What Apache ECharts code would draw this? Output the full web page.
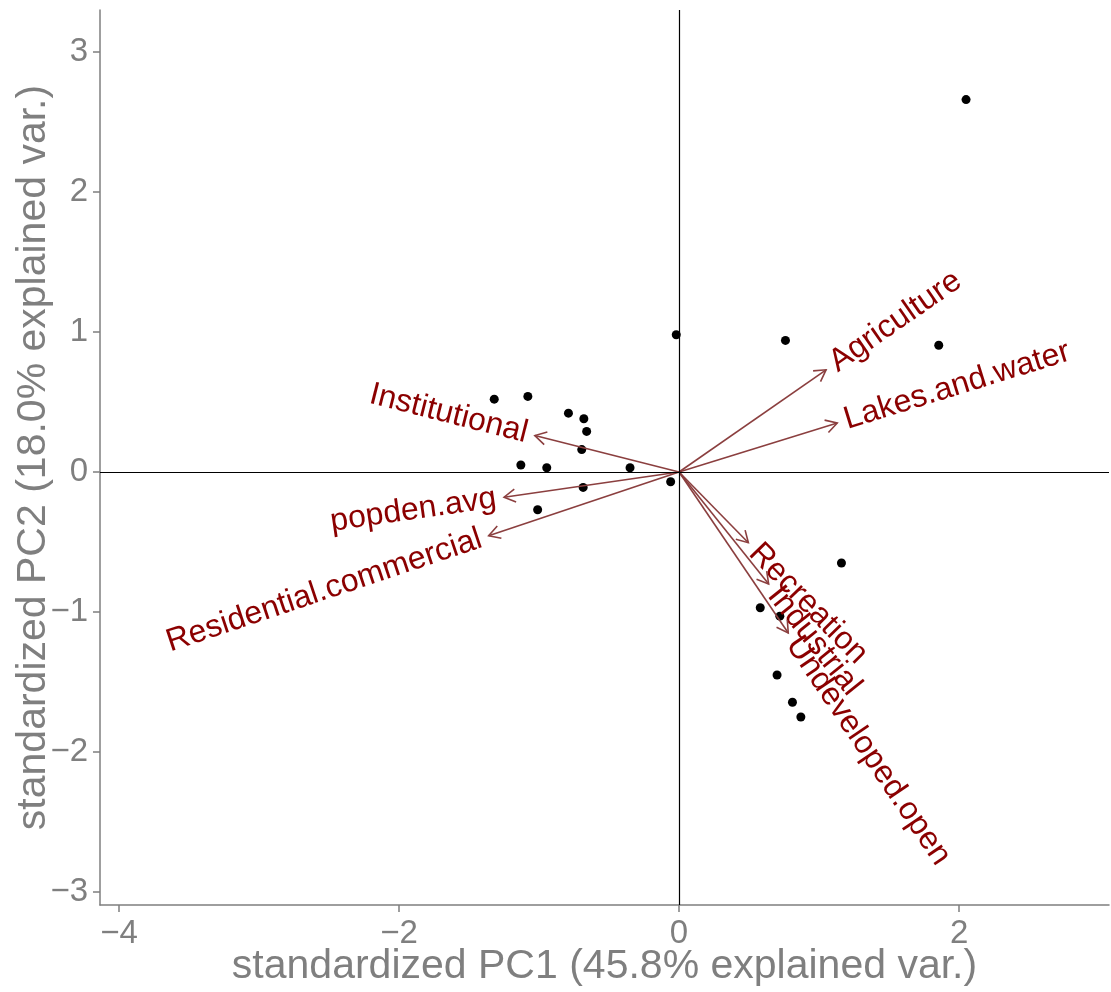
<!DOCTYPE html>
<html>
<head>
<meta charset="utf-8">
<title>PCA biplot</title>
<script src="https://cdn.jsdelivr.net/npm/echarts@6/dist/echarts.min.js"></script>
<style>
  html, body { margin: 0; padding: 0; background: #fff; }
  #chart { width: 1111px; height: 992px; }
</style>
</head>
<body>
<div id="chart"></div>
<script>
// observation scores (PC1, PC2)
const scoresX = [2.05, -0.02, 0.76, 1.855, -1.32, -1.08, -0.79, -0.68, -0.66, -0.695, -1.13,
  -0.945, -0.35, -0.06, -0.685, -1.01, 1.16, 0.58, 0.72, 0.70, 0.81, 0.87];
const scoresY = [2.66, 0.98, 0.94, 0.905, 0.52, 0.54, 0.42, 0.38, 0.29, 0.16, 0.05,
  0.03, 0.03, -0.07, -0.11, -0.27, -0.65, -0.97, -1.03, -1.45, -1.645, -1.75];

// variable loadings (arrow tips)
const varNames = ["popden.avg", "Residential.commercial", "Institutional", "Agriculture",
  "Lakes.and.water", "Recreation", "Industrial", "Undeveloped.open"];
const varX = [-1.25, -1.36, -1.03, 1.05, 1.13, 0.495, 0.64, 0.78];
const varY = [-0.18, -0.455, 0.26, 0.73, 0.35, -0.505, -0.80, -1.15];

const xTicks = [-4, -2, 0, 2];
const yTicks = [-3, -2, -1, 0, 1, 2, 3];

const FONT = "'Liberation Sans', Arial, sans-serif";
const GREY = "#7f7f7f";
const ARROW = "#8b3f3f";
const LABEL = "#8b0000";

const chart = echarts.init(document.getElementById("chart"));

const fmt = v => String(v).replace("-", "\u2212");

function axisCommon(ticks) {
  return {
    type: "value",
    splitLine: { show: false },
    axisLine: { show: true, onZero: false, lineStyle: { color: GREY, width: 1.5 } },
    axisTick: { show: true, length: 7, customValues: ticks, lineStyle: { color: GREY, width: 1.5 } },
    axisLabel: { customValues: ticks, formatter: fmt, color: GREY, fontSize: 33, fontFamily: FONT, margin: 12 },
    nameLocation: "middle",
    nameMoveOverlap: false,
    nameTextStyle: { color: GREY, fontSize: 41, fontFamily: FONT }
  };
}

// arrow + label for each variable
function renderArrow(params, api) {
  const tx = api.value(0), ty = api.value(1);
  const o = api.coord([0, 0]);
  const p = api.coord([tx, ty]);
  const dx = p[0] - o[0], dy = p[1] - o[1];
  const len = Math.sqrt(dx * dx + dy * dy);
  const ux = dx / len, uy = dy / len;
  const head = 13, spread = Math.PI / 6;
  const back = Math.atan2(-uy, -ux);
  const h1 = [p[0] + head * Math.cos(back + spread), p[1] + head * Math.sin(back + spread)];
  const h2 = [p[0] + head * Math.cos(back - spread), p[1] + head * Math.sin(back - spread)];
  const gap = 8;
  const name = varNames[params.dataIndex];
  const style = { stroke: ARROW, lineWidth: 1.6 };
  return {
    type: "group",
    children: [
      { type: "line", shape: { x1: o[0], y1: o[1], x2: p[0], y2: p[1] }, style: style },
      { type: "polyline", shape: { points: [h1, p, h2] }, style: Object.assign({ fill: null }, style) },
      {
        type: "text",
        x: p[0] + gap * ux,
        y: p[1] + gap * uy,
        rotation: Math.atan(ty / tx),
        style: {
          text: name,
          x: 0, y: 0,
          align: tx >= 0 ? "left" : "right",
          verticalAlign: "middle",
          fill: LABEL,
          fontSize: 32,
          fontFamily: FONT
        }
      }
    ]
  };
}

chart.setOption({
  animation: false,
  backgroundColor: "#fff",
  grid: { left: 100, right: 2, top: 10, bottom: 87, containLabel: false, outerBoundsMode: "none" },
  xAxis: Object.assign(axisCommon(xTicks), {
    min: -4.136, max: 3.071,
    name: "standardized PC1 (45.8% explained var.)",
    nameGap: 41
  }),
  yAxis: Object.assign(axisCommon(yTicks), {
    min: -3.093, max: 3.3,
    name: "standardized PC2 (18.0% explained var.)",
    nameGap: 46
  }),
  series: [
    {
      type: "scatter",
      data: scoresX.map((x, i) => [x, scoresY[i]]),
      symbolSize: 9,
      itemStyle: { color: "#000", opacity: 1 },
      markLine: {
        silent: true,
        symbol: "none",
        label: { show: false },
        lineStyle: { color: "#000", width: 1.2, type: "solid" },
        data: [{ xAxis: 0 }, { yAxis: 0 }]
      },
      z: 3
    },
    {
      type: "custom",
      renderItem: renderArrow,
      data: varX.map((x, i) => [x, varY[i]]),
      encode: { x: 0, y: 1 },
      z: 4
    }
  ]
});
</script>
</body>
</html>
